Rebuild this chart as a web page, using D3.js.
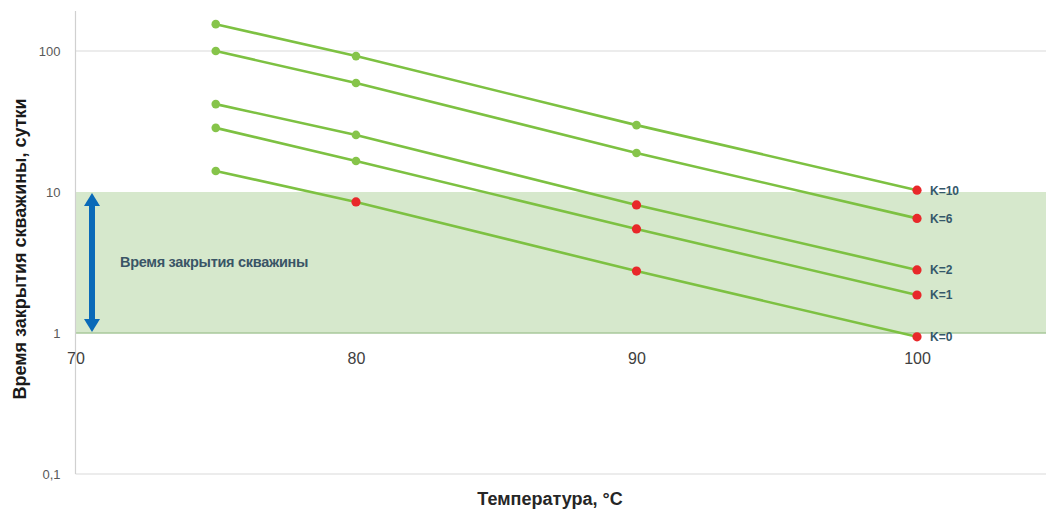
<!DOCTYPE html>
<html><head><meta charset="utf-8">
<script src="https://cdn.jsdelivr.net/npm/d3@7"></script>
<style>body{margin:0;background:#fff}svg{display:block}</style>
</head><body>
<svg id="c" width="1046" height="513"></svg>
<script>
const temps = [75, 80, 90, 100];
const seriesNames = ["K=10", "K=6", "K=2", "K=1", "K=0"];
const k10 = [155, 92, 29.8, 10.3];
const k6 = [100, 59.3, 18.9, 6.5];
const k2 = [42, 25.4, 8.1, 2.8];
const k1 = [28.5, 16.6, 5.47, 1.86];
const k0 = [14.1, 8.5, 2.75, 0.94];
const seriesValues = [k10, k6, k2, k1, k0];
const xTicks = [70, 80, 90, 100];
const yTicks = [0.1, 1, 10, 100];
const yTickLabels = ["0,1", "1", "10", "100"];
const bandRange = [1, 10];
const redThreshold = 10.5;
const bandLabel = "Время закрытия скважины";
const yTitle = "Время закрытия скважины, сутки";
const xTitle = "Температура, °C";

const svg = d3.select("#c");
const L = 75.5, R = 1046, T = 11, B = 474;
const x = d3.scaleLinear().domain([70, 100]).range([L, 917]);
const y = d3.scaleLog().domain([0.1, 100]).range([B, 51]);
const FONT = "Liberation Sans, Arial, sans-serif";

// band
svg.append("rect").attr("x", L).attr("y", y(bandRange[1]))
  .attr("width", R - L).attr("height", y(bandRange[0]) - y(bandRange[1]))
  .attr("fill", "#d6e8cc");
svg.append("line").attr("x1", L).attr("x2", R).attr("y1", y(bandRange[0])).attr("y2", y(bandRange[0]))
  .attr("stroke", "#a9c99b").attr("stroke-width", 1.5);

// gridlines (100 and 0.1)
[100, 0.1].forEach(v => {
  svg.append("line").attr("x1", L).attr("x2", R).attr("y1", y(v)).attr("y2", y(v))
    .attr("stroke", "#d9d9d9").attr("stroke-width", 1.2);
});
// y axis line
svg.append("line").attr("x1", L).attr("x2", L).attr("y1", T).attr("y2", B)
  .attr("stroke", "#d0d0d0").attr("stroke-width", 1.2);

// y axis ticks
const yAxis = d3.axisLeft(y).tickValues(yTicks).tickSize(0).tickPadding(15)
  .tickFormat((d, i) => yTickLabels[i]);
const gy = svg.append("g").attr("transform", `translate(${L},0)`).call(yAxis);
gy.select(".domain").remove();
gy.selectAll("text").attr("font-family", FONT)
  .attr("font-size", 13).attr("fill", "#595959");

// x axis ticks at y=1
const xAxis = d3.axisBottom(x).tickValues(xTicks).tickSize(0).tickPadding(20).tickFormat(d3.format("d"));
const gx = svg.append("g").attr("transform", `translate(0,${y(1)})`).call(xAxis);
gx.select(".domain").remove();
gx.selectAll("text").attr("font-family", FONT)
  .attr("font-size", 16).attr("fill", "#404040");

// double arrow
const ax = 92, ay1 = y(bandRange[1]) + 1, ay2 = y(bandRange[0]) - 1;
const arrow = svg.append("g").attr("fill", "#0a6ab8");
arrow.append("rect").attr("x", ax - 3).attr("y", ay1 + 12).attr("width", 6).attr("height", ay2 - ay1 - 24);
arrow.append("path").attr("d", `M${ax},${ay1} L${ax + 8},${ay1 + 13} L${ax - 8},${ay1 + 13} Z`);
arrow.append("path").attr("d", `M${ax},${ay2} L${ax + 8},${ay2 - 13} L${ax - 8},${ay2 - 13} Z`);

svg.append("text").attr("x", 120).attr("y", 267).text(bandLabel)
  .attr("font-family", FONT).attr("font-weight", "bold")
  .attr("font-size", 14.5).attr("fill", "#3a5566").attr("letter-spacing", -0.3);

// series
const line = d3.line().x((d, i) => x(temps[i])).y(d => y(d));
seriesValues.forEach((vals, si) => {
  svg.append("path").attr("d", line(vals)).attr("fill", "none")
    .attr("stroke", "#7dc142").attr("stroke-width", 2.6);
});
seriesValues.forEach((vals, si) => {
  svg.selectAll(null).data(vals).enter().append("circle")
    .attr("cx", (d, i) => x(temps[i])).attr("cy", d => y(d))
    .attr("r", d => d <= redThreshold ? 4.6 : 4.3)
    .attr("fill", d => d <= redThreshold ? "#e8282a" : "#86c44a");
  const last = vals[vals.length - 1];
  svg.append("text").attr("x", x(temps[temps.length - 1]) + 13).attr("y", y(last) + 4.5)
    .text(seriesNames[si]).attr("font-family", FONT)
    .attr("font-weight", "bold").attr("font-size", 12).attr("fill", "#35586a");
});

// titles
svg.append("text").attr("transform", `translate(26,249) rotate(-90)`)
  .attr("text-anchor", "middle").text(yTitle)
  .attr("font-family", FONT).attr("font-weight", "bold")
  .attr("font-size", 18).attr("fill", "#1a1a1a");
svg.append("text").attr("x", 550).attr("y", 505).attr("text-anchor", "middle").text(xTitle)
  .attr("font-family", FONT).attr("font-weight", "bold")
  .attr("font-size", 18).attr("fill", "#262626");
</script>
</body></html>
